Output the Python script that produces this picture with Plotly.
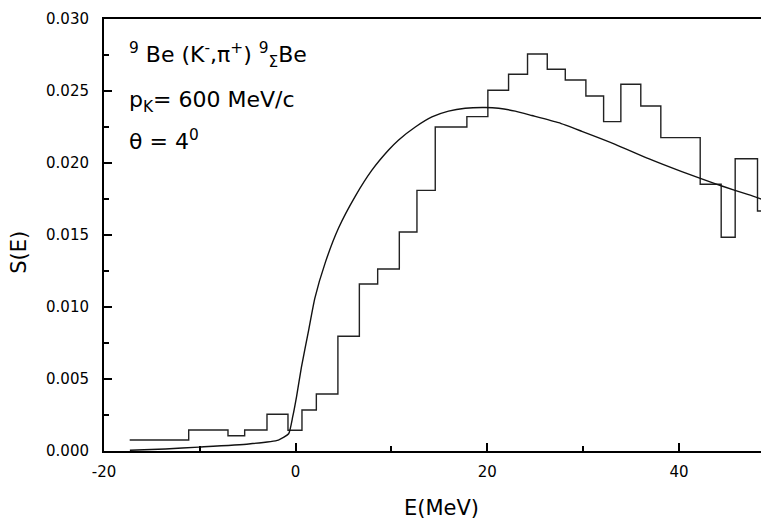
import plotly.graph_objs as go

# histogram edges (MeV) and bin contents
hist_edges = [-17.32, -11.16, -7.06, -5.32, -2.99, -0.80, 0.66, 2.16, 4.41, 6.65,
              8.56, 10.82, 12.66, 14.57, 17.87, 20.06, 22.22, 24.20, 26.26, 28.14,
              30.29, 32.14, 33.94, 36.02, 38.11, 42.22, 44.41, 45.87, 48.20, 49.6]
hist_values = [0.00076, 0.00146, 0.00106, 0.00146, 0.00255, 0.00144, 0.00285, 0.00396,
               0.00797, 0.0116, 0.01264, 0.01521, 0.0181, 0.0225, 0.02322, 0.02505,
               0.02616, 0.02757, 0.02651, 0.02576, 0.02465, 0.02287, 0.02547, 0.02396,
               0.02176, 0.01852, 0.01484, 0.0203, 0.01667]

# calculated S(E) curve
curve_e = [-17.3, -13.6, -10.1, -4.9, -1.8, -0.73, -0.3, 0.1, 0.6, 1.36, 2.0, 3.1,
           4.49, 6.23, 7.96, 9.70, 10.75, 12.49, 14.22, 15.96, 17.70, 19.79, 21.18,
           22.92, 24.65, 27.44, 29.87, 33.35, 36.83, 40.30, 44.48, 47.26, 49.4]
curve_s = [0.00005, 0.00014, 0.00027, 0.00049, 0.00076, 0.0012, 0.0024, 0.0038,
           0.0058, 0.0084, 0.0106, 0.0131, 0.0155, 0.0177, 0.0195, 0.0209, 0.0216,
           0.0225, 0.0232, 0.0236, 0.0238, 0.02385, 0.0238, 0.0236, 0.0233, 0.0228,
           0.0222, 0.0213, 0.0203, 0.0194, 0.0184, 0.0178, 0.0173]

x_ticks = [-20, 0, 20, 40]
x_ticktext = ['-20', '0', '20', '40']

FONT = 'DejaVu Sans'

fig = go.Figure()

# step histogram (last value repeated so the final bin gets drawn)
fig.add_trace(go.Scatter(x=hist_edges, y=hist_values + [hist_values[-1]],
                         mode='lines', line=dict(color='#222222', width=1.4, shape='hv'),
                         showlegend=False, hoverinfo='skip'))

fig.add_trace(go.Scatter(x=curve_e, y=curve_s, mode='lines',
                         line=dict(color='#111111', width=1.4, shape='spline', smoothing=0.5),
                         showlegend=False, hoverinfo='skip'))

fig.update_xaxes(range=[-20, 49.4], tickvals=x_ticks, ticktext=x_ticktext,
                 showline=True, linecolor='black', linewidth=2, mirror=True,
                 ticks='inside', ticklen=8, tickwidth=1.5, tickcolor='black',
                 minor=dict(ticks='inside', ticklen=5, tickvals=[-10, 10, 30],
                            tickcolor='black', tickwidth=1.5),
                 showgrid=False, zeroline=False, ticklabelstandoff=6,
                 tickfont=dict(family=FONT, size=15, color='black'))
fig.update_yaxes(range=[0, 0.030], dtick=0.005, tickformat='.3f',
                 showline=True, linecolor='black', linewidth=2,
                 ticks='inside', ticklen=8, tickwidth=1.5, tickcolor='black',
                 minor=dict(ticks='inside', ticklen=5, dtick=0.0025, tickcolor='black', tickwidth=1.5),
                 showgrid=False, zeroline=False, ticklabelstandoff=10,
                 tickfont=dict(family=FONT, size=15, color='black'))

# axis titles and the reaction labels
annots = [
    dict(text='E(MeV)', x=0.507, y=-0.132, textangle=0, size=21),
    dict(text='S(E)', x=-0.128, y=0.461, textangle=-90, size=21),
]
for a in annots:
    fig.add_annotation(text=a['text'], x=a['x'], y=a['y'], xref='paper', yref='paper',
                       xanchor='center', yanchor='middle', textangle=a['textangle'],
                       showarrow=False, font=dict(family=FONT, size=a['size'], color='black'))

labels = [
    ('<sup>9</sup> Be (K<sup>-</sup>,π<sup>+</sup>) <sup>9</sup><sub>Σ</sub>Be', 0.917),
    ('p<sub>K</sub>= 600 MeV/c', 0.810),
    ('θ = 4<sup>0</sup>', 0.720),
]
for txt, ypos in labels:
    fig.add_annotation(text=txt, x=0.0346, y=ypos, xref='paper', yref='paper',
                       xanchor='left', yanchor='middle', showarrow=False,
                       font=dict(family=FONT, size=22, color='black'))

# the page body has an 8px margin, so the figure is made 8px smaller
fig.update_layout(width=761, height=511, margin=dict(l=96, r=0, t=11, b=68),
                  paper_bgcolor='white', plot_bgcolor='white')

fig.write_html("out.html")
